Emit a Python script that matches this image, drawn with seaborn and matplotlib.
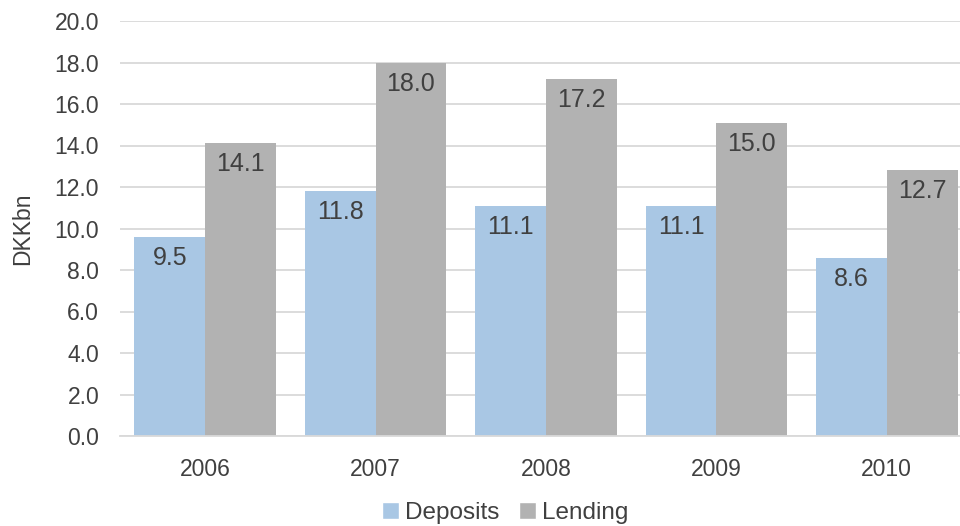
import matplotlib
matplotlib.use("Agg")
import matplotlib.pyplot as plt
from matplotlib.patches import Patch
import seaborn as sns
import pandas as pd

years = ["2006", "2007", "2008", "2009", "2010"]
deposits = [9.6, 11.8, 11.1, 11.1, 8.6]
lending = [14.1, 18.0, 17.2, 15.1, 12.8]
deposit_labels = ["9.5", "11.8", "11.1", "11.1", "8.6"]
lending_labels = ["14.1", "18.0", "17.2", "15.0", "12.7"]
series = ["Deposits", "Lending"]
colors = ["#A9C7E4", "#B2B2B2"]
text_col = "#404040"

df = pd.DataFrame({
    "year": years * 2,
    "value": deposits + lending,
    "series": [series[0]] * len(years) + [series[1]] * len(years),
})

sns.set_theme(style="whitegrid")
plt.rcParams["font.family"] = ["Liberation Sans", "DejaVu Sans"]

fig = plt.figure(figsize=(9.6, 5.26), dpi=100)
# axes runs past the right edge, the reference is cropped there
ax = fig.add_axes([120 / 960, 1 - 436 / 526, 852 / 960, 415 / 526])

sns.barplot(data=df, x="year", y="value", hue="series", palette=colors,
            width=0.83, gap=0, saturation=1, linewidth=0, ax=ax, legend=False)

for cont, labs in zip(ax.containers, [deposit_labels, lending_labels]):
    for p, lab in zip(cont.patches, labs):
        ax.annotate(lab, xy=(p.get_x() + p.get_width() / 2, p.get_height()),
                    xytext=(0, -6.5), textcoords="offset points",
                    ha="center", va="top", fontsize=18, color=text_col)

ax.set_ylim(0, 20)
ax.set_xlim(-0.5, 4.5)
ax.set_yticks(range(0, 21, 2))
ax.set_yticklabels([f"{v:.1f}" for v in range(0, 21, 2)])
ax.tick_params(axis="y", length=0, pad=15, labelsize=16.5, labelcolor=text_col)
ax.tick_params(axis="x", length=0, pad=16, labelsize=16.5, labelcolor=text_col)
ax.grid(axis="y", color="#D9D9D9", linewidth=1.3)
ax.grid(axis="x", visible=False)
for s in ["left", "right", "top"]:
    ax.spines[s].set_visible(False)
ax.spines["bottom"].set_color("#D9D9D9")
ax.spines["bottom"].set_linewidth(1.3)
ax.set_axisbelow(True)

ax.set_xlabel("")
ax.set_ylabel("DKKbn", fontsize=16.5, color=text_col)
ax.yaxis.set_label_coords(-0.101, 0.5)

handles = [Patch(facecolor=c, label=s) for c, s in zip(colors, series)]
fig.legend(handles=handles, loc="center", bbox_to_anchor=(505 / 960, 1 - 513 / 526),
           ncol=2, frameon=False, fontsize=17.5, labelcolor=text_col,
           handlelength=0.7, handleheight=0.7, handletextpad=0.25,
           columnspacing=0.8)

fig.savefig("out.png", dpi=100)
